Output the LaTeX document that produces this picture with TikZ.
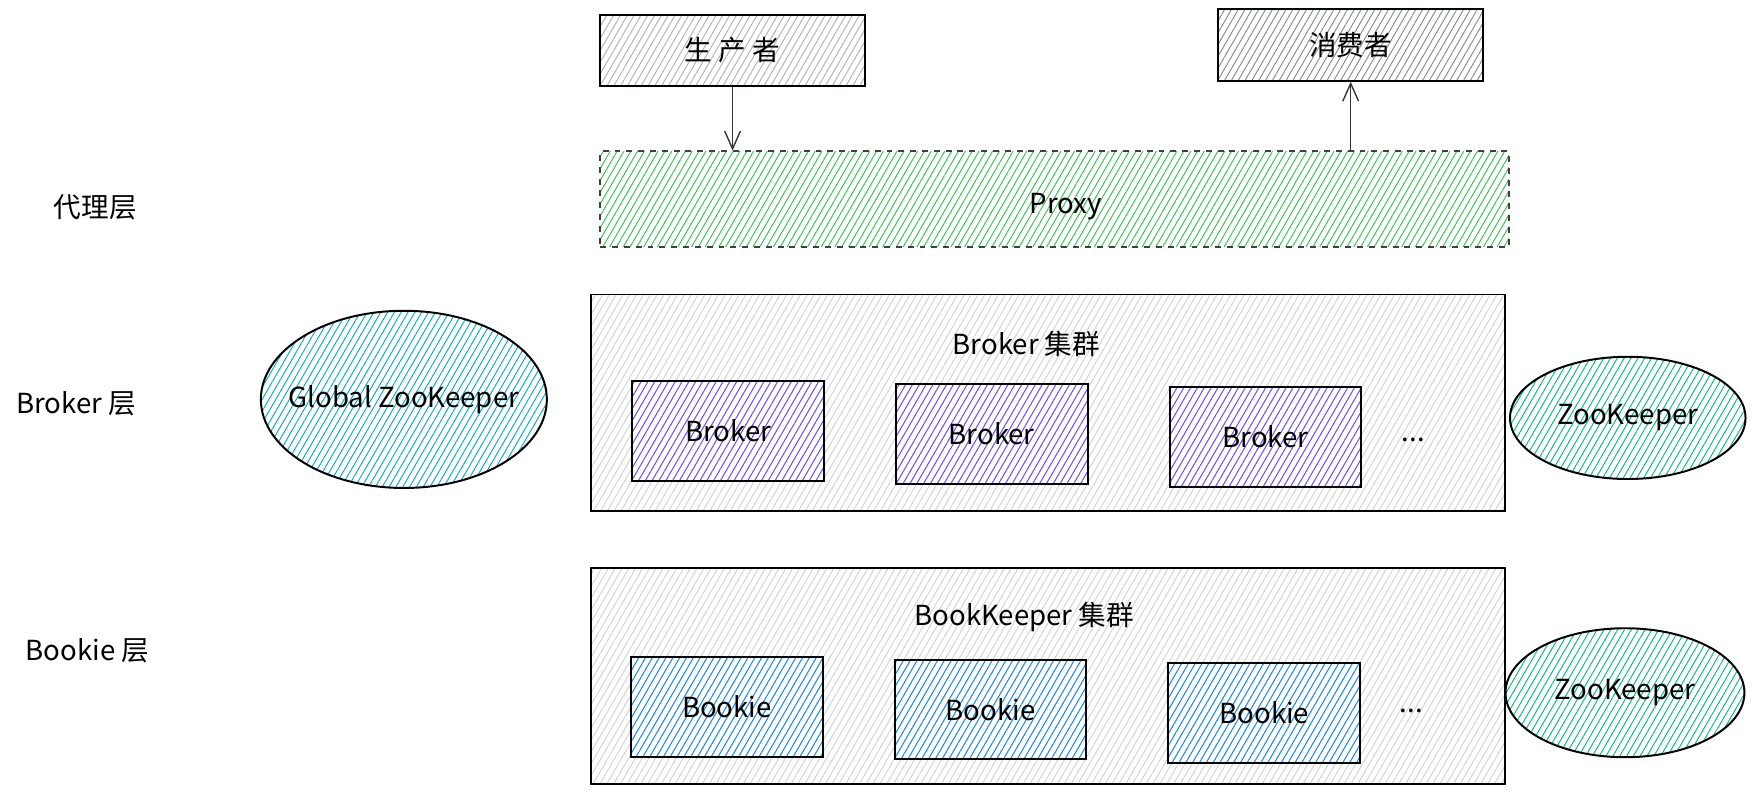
\documentclass[tikz,border=0pt]{standalone}
\usepackage{fontspec}
\setmainfont{Noto Sans CJK SC}
\usepackage{tikz}
\usetikzlibrary{shapes.geometric,arrows.meta,patterns.meta}
\definecolor{producerGray}{HTML}{ADB5BD}
\definecolor{consumerGray}{HTML}{868E96}
\definecolor{clusterGray}{HTML}{CED4DA}
\definecolor{proxyGreen}{HTML}{40C057}
\definecolor{brokerPurple}{HTML}{7950F2}
\definecolor{bookieBlue}{HTML}{228BE6}
\definecolor{globalCyan}{HTML}{15AABF}
\definecolor{zkTeal}{HTML}{12B886}
\tikzstyle{hatch} = [pattern={Lines[angle=60,distance=3pt,line width=0.5pt]}]
\tikzstyle{client} = [rectangle, draw, line width=1pt, hatch, minimum width=4.72cm, minimum height=1.28cm]
\tikzstyle{proxy} = [rectangle, draw=black!75, dashed, line width=1pt, hatch, pattern color=proxyGreen, minimum width=16.2cm, minimum height=1.7cm]
\tikzstyle{cluster} = [rectangle, draw, line width=1pt, hatch, pattern color=clusterGray, minimum width=16.3cm, minimum height=3.86cm]
\tikzstyle{member} = [rectangle, draw, line width=1pt, hatch, minimum width=3.42cm, minimum height=1.78cm]
\tikzstyle{zk} = [ellipse, draw, line width=1pt, hatch, inner sep=0pt]
\tikzstyle{line} = [draw, black!80, line width=0.7pt, -{Straight Barb[length=9pt,width=8pt]}]

\begin{document}
\begin{tikzpicture}[x=0.02cm, y=-0.02cm, font=\fontsize{14}{16}\selectfont]
    \useasboundingbox (0,0) rectangle (1568,708);
    % clients
    \node [client, pattern color=producerGray] (producer) at (653,45) {生 产 者};
    \node [client, pattern color=consumerGray] (consumer) at (1204,40) {消费者};
    % proxy layer
    \node [proxy] (proxy) at (940,177.5) {};
    \node (proxyText) at (950,184) {Proxy};
    \node (proxyLayer) at (85,185) {代理层};
    \path [line] (producer) -- (producer |- proxy.north);
    \path [line] (proxy.north -| consumer) -- (consumer);
    % broker layer
    \node (brokerLayer) at (68,360) {Broker 层};
    \node [zk, pattern color=globalCyan, inner xsep=-20pt, minimum width=5.1cm, minimum height=3.16cm] (globalZk) at (360,356) {Global ZooKeeper};
    \node [cluster] (brokerCluster) at (934.5,359) {};
    \node (brokerTitle) at (915,307) {Broker 集群};
    \node [member, pattern color=brokerPurple] (broker1) at (649,384) {Broker};
    \node [member, pattern color=brokerPurple] (broker2) at (884,387) {Broker};
    \node [member, pattern color=brokerPurple] (broker3) at (1128,389.5) {Broker};
    \node (brokerMore) at (1260,392) {...};
    \node [zk, pattern color=zkTeal, minimum width=4.2cm, minimum height=2.18cm] (brokerZk) at (1451,372.5) {ZooKeeper};
    % bookie layer
    \node (bookieLayer) at (78,580) {Bookie 层};
    \node [cluster] (bookieCluster) at (934.5,602.5) {};
    \node (bookieTitle) at (913,550) {BookKeeper 集群};
    \node [member, pattern color=bookieBlue] (bookie1) at (648,630) {Bookie};
    \node [member, pattern color=bookieBlue] (bookie2) at (883,632.5) {Bookie};
    \node [member, pattern color=bookieBlue] (bookie3) at (1127,635.5) {Bookie};
    \node (bookieMore) at (1258,634) {...};
    \node [zk, pattern color=zkTeal, minimum width=4.26cm, minimum height=2.3cm] (bookieZk) at (1448.5,617.5) {ZooKeeper};
\end{tikzpicture}
\end{document}
